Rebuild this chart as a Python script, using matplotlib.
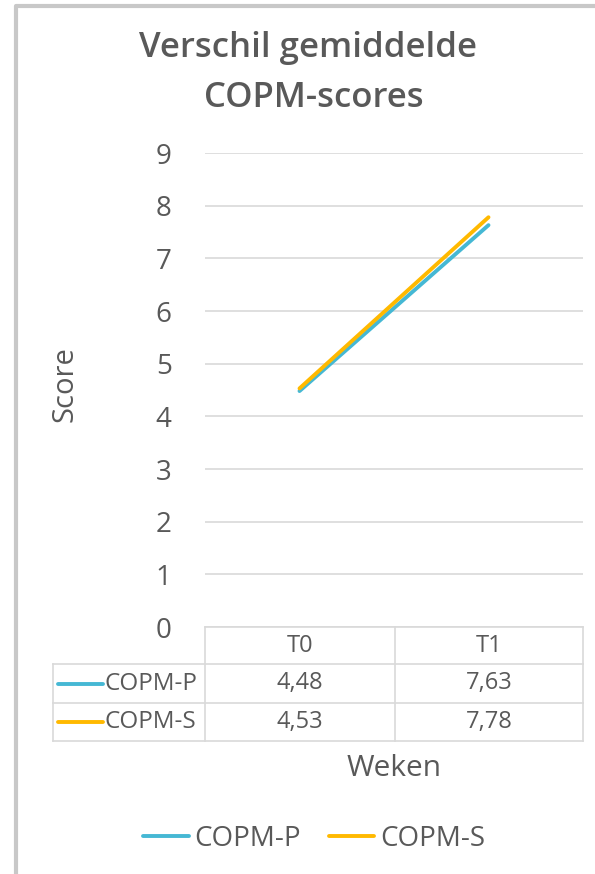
import matplotlib.pyplot as plt
from matplotlib.lines import Line2D

plt.rcParams['font.family'] = ['Open Sans', 'DejaVu Sans']

weeks = ['T0', 'T1']
series_names = ['COPM-P', 'COPM-S']
copm_p = [4.48, 7.63]
copm_s = [4.53, 7.78]
y_ticks = [0, 1, 2, 3, 4, 5, 6, 7, 8, 9]

blue = '#45B8D4'
orange = '#FFB900'
txt = '#595959'
grid = '#D9D9D9'

W, H = 595, 874
fig = plt.figure(figsize=(W / 100, H / 100), dpi=100)

# chart border (only left and top visible)
fig.add_artist(Line2D([16 / W, 16 / W, 1.2], [-0.2, 1 - 6 / H, 1 - 6 / H],
                      transform=fig.transFigure, color='#C8C8C8', lw=3))

ax = fig.add_axes([205 / W, 1 - 627 / H, 378 / W, 474 / H])
x = list(range(len(weeks)))
ax.plot(x, copm_p, color=blue, lw=2.8, solid_capstyle='round', label=series_names[0])
ax.plot(x, copm_s, color=orange, lw=2.8, solid_capstyle='round', label=series_names[1])
ax.set_xlim(-0.5, len(weeks) - 0.5)
ax.set_ylim(0, 9)
ax.set_yticks(y_ticks)
ax.set_yticklabels([str(v) for v in y_ticks], fontsize=20, color=txt)
ax.tick_params(axis='y', length=0, pad=24)
ax.set_xticks([])
for s in ax.spines.values():
    s.set_visible(False)
ax.yaxis.grid(True, color=grid, lw=1.2)
ax.set_axisbelow(True)

# data table below the plot
px = 1 / 378
py = 1 / 474
left = (53 - 205) * px
rows_y = [0, -37 * py, -76 * py, -114 * py]
cols_x = [left, 0, 190 * px, 1.0]
kw = dict(transform=ax.transAxes, color=grid, lw=1.2, clip_on=False)
ax.add_line(Line2D([0, 1], [rows_y[0]] * 2, **kw))
for yy in rows_y[1:]:
    ax.add_line(Line2D([left, 1], [yy] * 2, **kw))
ax.add_line(Line2D([left, left], [rows_y[1], rows_y[3]], **kw))
for xx in cols_x[1:]:
    ax.add_line(Line2D([xx, xx], [rows_y[0], rows_y[3]], **kw))

for i, w in enumerate(weeks):
    ax.text((cols_x[i + 1] + cols_x[i + 2]) / 2, (rows_y[0] + rows_y[1]) / 2, w,
            transform=ax.transAxes, ha='center', va='center', fontsize=17, color=txt)
for r, (name, vals, col) in enumerate([(series_names[0], copm_p, blue),
                                       (series_names[1], copm_s, orange)]):
    yc = (rows_y[r + 1] + rows_y[r + 2]) / 2
    ax.add_line(Line2D([(58 - 205) * px, (103 - 205) * px], [yc, yc], transform=ax.transAxes,
                       color=col, lw=2.8, solid_capstyle='round', clip_on=False))
    ax.text((105 - 205) * px, yc, name, transform=ax.transAxes, ha='left', va='center',
            fontsize=17.5, color=txt)
    for i, v in enumerate(vals):
        ax.text((cols_x[i + 1] + cols_x[i + 2]) / 2, yc, f'{v:.2f}'.replace('.', ','),
                transform=ax.transAxes, ha='center', va='center', fontsize=17, color=txt)

fig.text(308 / W, 1 - 48 / H, 'Verschil gemiddelde', ha='center', va='center',
         fontsize=25, fontweight='semibold', color=txt)
fig.text(314 / W, 1 - 98 / H, 'COPM-scores', ha='center', va='center',
         fontsize=25, fontweight='semibold', color=txt)
fig.text(65 / W, 1 - 384 / H, 'Score', rotation=90, ha='center', va='center',
         fontsize=21, color=txt)
fig.text(394 / W, 1 - 768 / H, 'Weken', ha='center', va='center', fontsize=21.5, color=txt)

fig.legend(handles=ax.get_lines(), labels=series_names, loc='center',
           bbox_to_anchor=(314 / W, 1 - 839 / H), ncol=2, frameon=False,
           fontsize=20, labelcolor=txt, handlelength=1.65, handletextpad=0.2,
           columnspacing=1.0)

fig.savefig('out.png', dpi=100)
